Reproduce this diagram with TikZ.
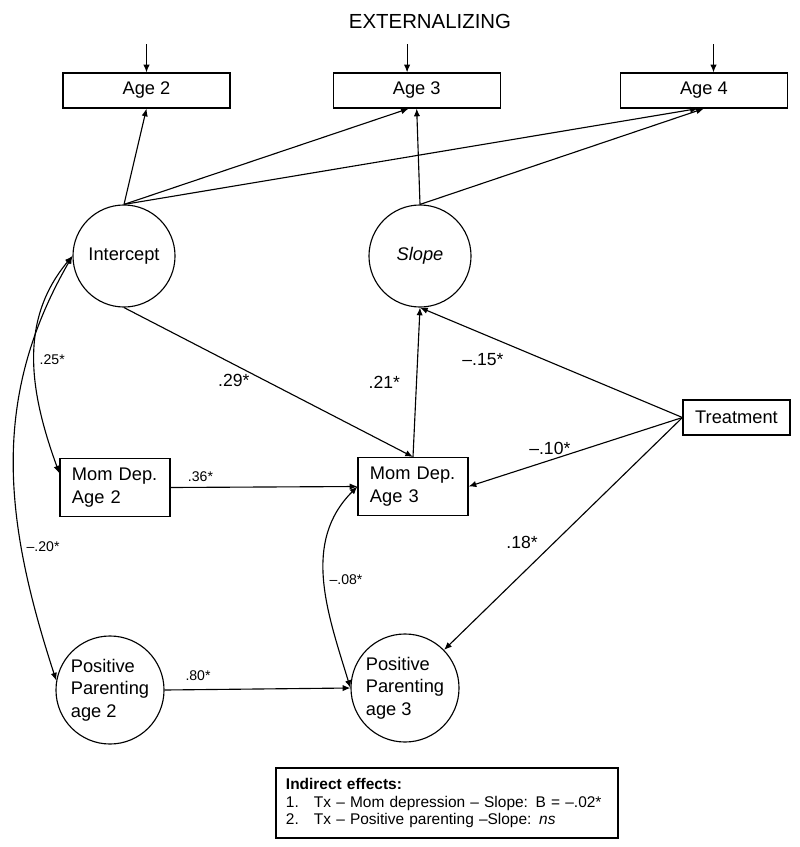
\documentclass[tikz,border=0pt]{standalone}
\usepackage{fontspec}
\setmainfont{Liberation Sans}
\usetikzlibrary{arrows.meta,positioning}
\newcommand{\nodefont}{\fontsize{13}{16}\selectfont}
\newcommand{\titlefont}{\fontsize{14.5}{17}\selectfont}
\newcommand{\bigcoef}{\fontsize{12.5}{14}\selectfont}
\newcommand{\smallcoef}{\fontsize{10}{12}\selectfont}
\newcommand{\notefont}{\fontsize{11}{12.5}\selectfont}

\begin{document}
\begin{tikzpicture}[x=0.025cm,y=-0.025cm, every node/.style={font=\nodefont},
        obs/.style={rectangle,draw,line width=0.8pt,minimum width=4.175cm,minimum height=0.875cm},
        dep/.style={rectangle,draw,line width=0.8pt,text width=2.15cm,inner xsep=0.3cm,
          minimum height=1.45cm,align=left},
        latent/.style={circle,draw,line width=0.8pt,minimum size=2.55cm,inner sep=1pt},
        pp/.style={latent,minimum size=2.7cm,align=left},
        coef/.style={font=\bigcoef},
        scoef/.style={font=\smallcoef},
        arrow/.style={-{Latex[length=5.5pt,width=4.5pt]},line width=0.8pt},
        cov/.style={{Latex[length=5.5pt,width=4.5pt]}-{Latex[length=5.5pt,width=4.5pt]},line width=0.8pt}]
        \useasboundingbox (0,0) rectangle (800,847);
        \node[font=\titlefont] (title) at (430,21) {EXTERNALIZING};
        % outcome row
        \node[obs] (age2) at (146.5,90.5) {Age 2};
        \node[obs,right=2.55cm of age2] (age3) {Age 3};
        \node[obs,right=2.975cm of age3] (age4) {Age 4};
        \coordinate[above=0.7cm of age2.north] (e2);
        \coordinate[above=0.7cm of age3.north,xshift=-0.24cm] (e3);
        \coordinate[above=0.7cm of age4.north,xshift=0.24cm] (e4);
        % growth factors and predictors
        \node[latent] (intercept) at (124,256) {Intercept};
        \node[latent] (slope) at (420,256) {\textit{Slope}};
        \node[dep] (momdep2) at (115,487.5) {Mom Dep.\\Age 2};
        \node[dep] (momdep3) at (413,486.5) {Mom Dep.\\Age 3};
        \node[obs,minimum width=2.675cm] (treatment) at (736.5,417.5) {Treatment};
        \node[pp] (pp2) at (110,690) {Positive\\Parenting\\age 2};
        \node[pp] (pp3) at (405,688) {Positive\\Parenting\\age 3};
        \node[draw,line width=0.8pt,text width=8.05cm,inner xsep=0.25cm,minimum height=1.75cm,
          align=left,font=\notefont] (effects) at (447,803)
          {\textbf{Indirect effects:}\\
           \mbox{\makebox[0.7cm][l]{1.}Tx – Mom depression – Slope: B = –.02*}\\
           \mbox{\makebox[0.7cm][l]{2.}Tx – Positive parenting –Slope: \textit{ns}}};
        \draw[arrow] (e2) -- (age2.north);
        \draw[arrow] (e3) -- (e3 |- age3.north);
        \draw[arrow] (e4) -- (e4 |- age4.north);
        \draw[arrow] (intercept.north) -- (age2.south);
        \draw[arrow] (intercept.north) -- ([xshift=-0.2cm]age3.south);
        \draw[arrow] (intercept.north) -- ([xshift=-0.15cm]age4.south);
        \draw[arrow] (slope.north) -- (age3.south);
        \draw[arrow] (slope.north) -- (age4.south);
        \draw[arrow] (intercept.south) -- node[coef,pos=0.38,below=3pt] {.29*} (momdep3.north);
        \draw[arrow] (momdep3.north) -- node[coef,left=8pt] {.21*} (slope.south);
        \draw[arrow] (treatment.west) -- node[coef,pos=0.76,below=10pt] {–.15*} (slope.south);
        \draw[arrow] (treatment.west) -- node[coef,pos=0.62,above] {–.10*} (momdep3.east);
        \draw[arrow] (treatment.west) -- node[coef,pos=0.585,above left] {.18*} (pp3);
        \draw[arrow] (momdep2.east) -- node[scoef,pos=0.16,above] {.36*} (momdep3.west);
        \draw[arrow] (pp2.east) -- node[scoef,pos=0.18,above=3pt] {.80*} (pp3.west);
        % covariances
        \draw[cov] (intercept.west) to[out=230,in=110] node[scoef,pos=0.5,right] {.25*} ([yshift=0.35cm]momdep2.west);
        \draw[cov] (intercept.west) to[out=240,in=108] node[scoef,pos=0.7,right] {–.20*} (pp2.170);
        \draw[cov] (momdep3.west) to[out=225,in=107] node[scoef,pos=0.5,right] {–.08*} (pp3.west);
      \end{tikzpicture}
\end{document}
